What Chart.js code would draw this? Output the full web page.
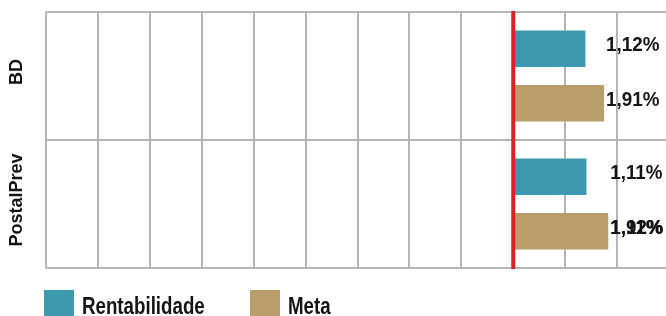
<!DOCTYPE html>
<html><head><meta charset="utf-8">
<script src="https://cdn.jsdelivr.net/npm/chart.js@4.4.1/dist/chart.umd.min.js"></script>
<style>html,body{margin:0;padding:0;overflow:hidden;background:#fff;width:666px;height:316px}canvas{display:block}</style>
</head><body>
<canvas id="c" width="690" height="316"></canvas>
<script>
const categories = ['BD', 'PostalPrev'];
const seriesNames = ['Rentabilidade', 'Meta'];
const rentabilidade = [1.39, 1.41];
const meta = [1.75, 1.83];
const rentabilidadeLabels = ['1,12%', '1,11%'];
const metaLabels = ['1,91%', '1,92%'];
const metaOverlayLabels = ['', '1,11%'];
const axisMin = -9;
const axisMax = 3;

const COLORS = ['#3d9aae', '#b99d6b'];
const REG = "'Liberation Sans',Arial,sans-serif";

// condensed text: draw with horizontal compression
function narrowText(ctx, text, x, y, sx) {
  ctx.save();
  ctx.translate(x, y);
  ctx.scale(sx, 1);
  ctx.fillText(text, 0, 0);
  ctx.restore();
}

const overlay = {
  id: 'overlay',
  afterDatasetsDraw(chart) {
    const {ctx, chartArea, scales: {x, y}} = chart;
    ctx.save();
    const x0 = x.getPixelForValue(0);
    ctx.strokeStyle = '#e21f26';
    ctx.lineWidth = 4;
    ctx.beginPath();
    ctx.moveTo(x0, chartArea.top - 1);
    ctx.lineTo(x0, chartArea.bottom + 1);
    ctx.stroke();

    ctx.font = 'bold 20px ' + REG;
    ctx.fillStyle = '#141414';
    ctx.textBaseline = 'middle';
    ctx.textAlign = 'left';
    const m0 = chart.getDatasetMeta(0), m1 = chart.getDatasetMeta(1);
    categories.forEach((c, i) => {
      const lx = Math.max(m0.data[i].x, m1.data[i].x) + 2;
      narrowText(ctx, rentabilidadeLabels[i], lx, m0.data[i].y - 3, 0.94);
      narrowText(ctx, metaLabels[i], lx, m1.data[i].y - 3, 0.94);
      if (metaOverlayLabels[i]) narrowText(ctx, metaOverlayLabels[i], lx, m1.data[i].y - 3, 0.94);
    });

    ctx.font = 'bold 18px ' + REG;
    ctx.textAlign = 'center';
    categories.forEach((c, i) => {
      const cy = y.getPixelForValue(i) - 4;
      ctx.save();
      ctx.translate(17, cy);
      ctx.rotate(-Math.PI / 2);
      ctx.fillText(c, 0, 0);
      ctx.restore();
    });
    ctx.restore();
  },
  afterDraw(chart) {
    const ctx = chart.ctx;
    const starts = [44, 250];
    ctx.save();
    ctx.font = 'bold 24px ' + REG;
    ctx.textBaseline = 'alphabetic';
    ctx.textAlign = 'left';
    chart.data.datasets.forEach((ds, i) => {
      ctx.fillStyle = ds.backgroundColor;
      ctx.fillRect(starts[i], 290, 30, 30);
      ctx.fillStyle = '#141414';
      narrowText(ctx, ds.label, starts[i] + 38, 314, 0.78);
    });
    ctx.restore();
  }
};

new Chart(document.getElementById('c'), {
  type: 'bar',
  data: {
    labels: categories,
    datasets: [
      {label: seriesNames[0], data: rentabilidade, backgroundColor: COLORS[0]},
      {label: seriesNames[1], data: meta, backgroundColor: COLORS[1]}
    ]
  },
  options: {
    indexAxis: 'y',
    responsive: false,
    animation: false,
    devicePixelRatio: 1,
    categoryPercentage: 0.85,
    barPercentage: 0.67,
    layout: {padding: {left: 0, right: 21, top: 12, bottom: 48}},
    plugins: {legend: {display: false}, tooltip: {enabled: false}},
    scales: {
      x: {
        min: axisMin, max: axisMax,
        ticks: {display: false, stepSize: 1},
        grid: {color: '#b4b4b7', lineWidth: 2, drawTicks: false},
        border: {display: false}
      },
      y: {
        ticks: {display: false},
        grid: {color: '#b4b4b7', lineWidth: 2, drawTicks: false},
        border: {display: false},
        afterFit(scale) { scale.width = 46; }
      }
    }
  },
  plugins: [overlay]
});
</script>
</body></html>
